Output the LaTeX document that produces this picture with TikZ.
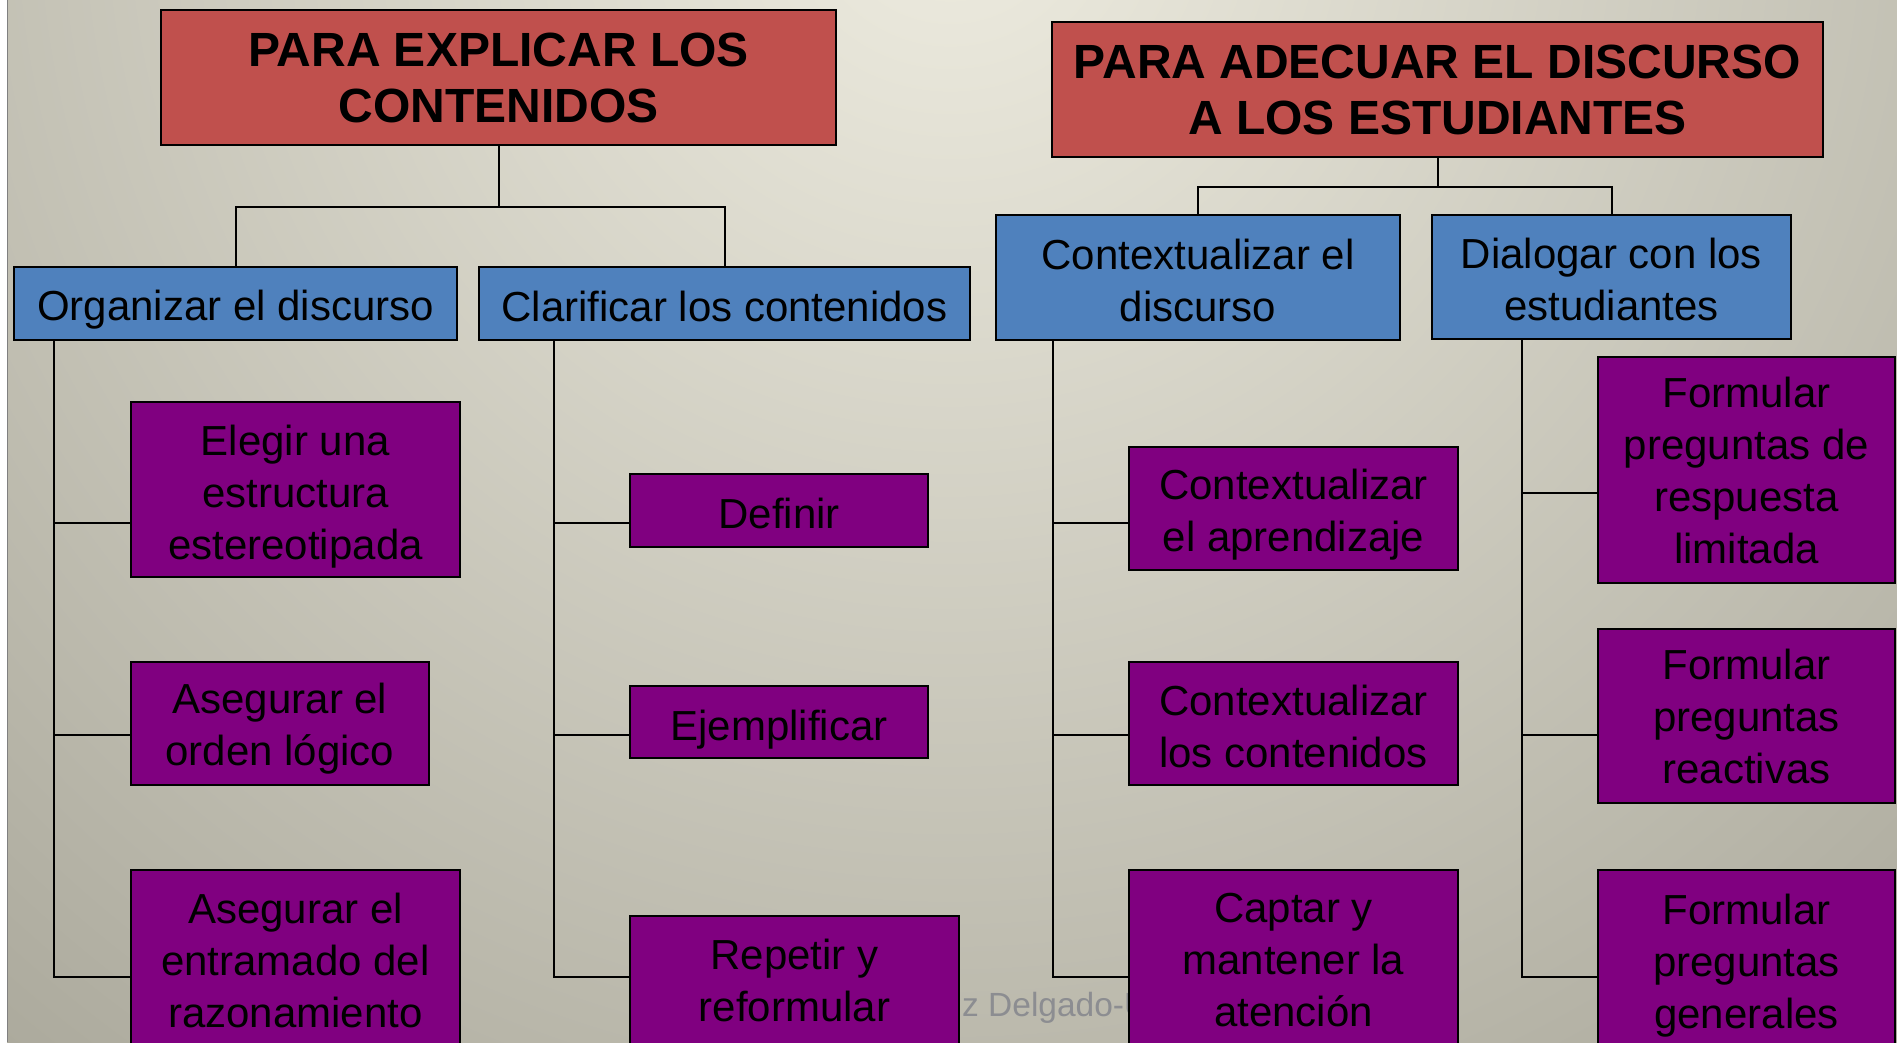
\documentclass[tikz,border=0pt]{standalone}
\usepackage{fontspec}
\setmainfont{Liberation Sans}

\definecolor{bglight}{RGB}{238,236,224}
\definecolor{bgdark}{RGB}{118,116,102}
\definecolor{titlered}{RGB}{192,80,77}
\definecolor{topicblue}{RGB}{79,129,189}
\definecolor{leafpurple}{RGB}{128,0,128}
\definecolor{footergray}{RGB}{140,141,145}

\newcommand{\linew}{2pt}
\newcommand{\leafwidth}{329pt}
\newcommand{\shortleafwidth}{298pt}
\newcommand{\qwidth}{297pt}
\newcommand{\textdown}[1]{\rule{0pt}{#1}}

\begin{document}
\begin{tikzpicture}[
    x=1pt, y=-1pt,
    box font/.style={font=\fontsize{42}{52}\selectfont},
    title font/.style={font=\fontsize{48}{56}\selectfont\bfseries},
    footer font/.style={font=\fontsize{33.5}{40}\selectfont},
    title box/.style={draw, line width=\linew, fill=titlered, inner sep=0pt, align=center, title font},
    topic box/.style={draw, line width=\linew, fill=topicblue, inner sep=0pt, align=center, box font},
    leaf box/.style={draw, line width=\linew, fill=leafpurple, inner sep=0pt, align=center, box font},
    link/.style={line width=\linew}
]

\useasboundingbox (0,0) rectangle (1897,1042);

\begin{scope}
\clip (0,0) rectangle (1897,1042);

% BACKGROUND
\fill[white] (0,0) rectangle (1897,1042);
\begin{scope}
    \clip (7,0) rectangle (1897,1042);
    \shade[inner color=bglight, outer color=bgdark] (950,-100) circle (2700);
\end{scope}
\draw[gray, line width=1pt] (7,0) -- (7,1042);

\node[footer font, text=footergray, anchor=base west, inner sep=0pt] (footer) at (962,1016) {z Delgado-U};

% TITLES
\node[title box, minimum width=675pt, minimum height=135pt] (explicar) at (498.5,77.5)
    {PARA EXPLICAR LOS\\CONTENIDOS};
\node[title box, minimum width=771pt, minimum height=135pt] (adecuar) at (1437.5,89.5)
    {PARA ADECUAR EL DISCURSO\\A LOS ESTUDIANTES};

% TOPICS
\node[topic box, minimum width=443pt, minimum height=73pt] (organizar) at (235.5,303.5)
    {\textdown{43pt}Organizar el discurso};
\node[topic box, minimum width=491pt, minimum height=73pt] (clarificar) at (724.5,303.5)
    {\textdown{36pt}Clarificar los contenidos};
\node[topic box, minimum width=404pt, minimum height=125pt] (contexto) at (1198,277.5)
    {\textdown{36pt}Contextualizar el\\discurso};
\node[topic box, minimum width=359pt, minimum height=124pt] (dialogar) at (1611.5,277)
    {\textdown{36pt}Dialogar con los\\estudiantes};

% LEAVES
\node[leaf box, minimum width=\leafwidth, minimum height=175pt] (elegir) at (295.5,489.5)
    {\textdown{45pt}Elegir una\\estructura\\estereotipada};
\node[leaf box, minimum width=\shortleafwidth, minimum height=123pt] (orden) at (280,723.5)
    {\textdown{41pt}Asegurar el\\orden lógico};
\node[leaf box, minimum width=\leafwidth, minimum height=180pt] (entramado) at (295.5,960)
    {Asegurar el\\entramado del\\razonamiento};

\node[leaf box, minimum width=\shortleafwidth, minimum height=73pt] (definir) at (779,510.5)
    {\textdown{36pt}Definir};
\node[leaf box, minimum width=\shortleafwidth, minimum height=72pt] (ejemplificar) at (779,722)
    {\textdown{45pt}Ejemplificar};
\node[leaf box, minimum width=\leafwidth, minimum height=128pt] (repetir) at (794.5,980)
    {Repetir y\\reformular};

\node[leaf box, minimum width=\leafwidth, minimum height=123pt] (aprendizaje) at (1293.5,508.5)
    {\textdown{43pt}Contextualizar\\el aprendizaje};
\node[leaf box, minimum width=\leafwidth, minimum height=123pt] (contenidos) at (1293.5,723.5)
    {\textdown{36pt}Contextualizar\\los contenidos};
\node[leaf box, minimum width=\leafwidth, minimum height=180pt] (captar) at (1293.5,960)
    {Captar y\\mantener la\\atención};

\node[leaf box, minimum width=\qwidth, minimum height=226pt] (limitada) at (1746.5,470)
    {Formular\\preguntas de\\respuesta\\limitada};
\node[leaf box, minimum width=\qwidth, minimum height=174pt] (reactivas) at (1746.5,716)
    {Formular\\preguntas\\reactivas};
\node[leaf box, minimum width=\qwidth, minimum height=180pt] (generales) at (1746.5,960)
    {\textdown{41pt}Formular\\preguntas\\generales};

% CONNECTORS
\coordinate (explicar fork) at (498.5,207);
\coordinate (adecuar fork) at (1437.5,187);

\draw[link] (explicar.south) -- (explicar fork);
\draw[link] (organizar.north) |- (explicar fork) -| (clarificar.north);
\draw[link] (adecuar.south) -- (adecuar fork);
\draw[link] (contexto.north) |- (adecuar fork) -| (dialogar.north);

% Trunks
\coordinate (org a) at (54,523);
\coordinate (org b) at (54,735);
\coordinate (org c) at (54,977);
\coordinate (cla a) at (554,523);
\coordinate (cla b) at (554,735);
\coordinate (cla c) at (554,977);
\coordinate (con a) at (1053,523);
\coordinate (con b) at (1053,735);
\coordinate (con c) at (1053,977);
\coordinate (dia a) at (1522,493);
\coordinate (dia b) at (1522,735);
\coordinate (dia c) at (1522,977);

\draw[link] (organizar.south -| org a) -- (org c) -- (entramado.west |- org c);
\draw[link] (org a) -- (elegir.west |- org a);
\draw[link] (org b) -- (orden.west |- org b);

\draw[link] (clarificar.south -| cla a) -- (cla c) -- (repetir.west |- cla c);
\draw[link] (cla a) -- (definir.west |- cla a);
\draw[link] (cla b) -- (ejemplificar.west |- cla b);

\draw[link] (contexto.south -| con a) -- (con c) -- (captar.west |- con c);
\draw[link] (con a) -- (aprendizaje.west |- con a);
\draw[link] (con b) -- (contenidos.west |- con b);

\draw[link] (dialogar.south -| dia a) -- (dia c) -- (generales.west |- dia c);
\draw[link] (dia a) -- (limitada.west |- dia a);
\draw[link] (dia b) -- (reactivas.west |- dia b);

\end{scope}

\end{tikzpicture}
\end{document}
